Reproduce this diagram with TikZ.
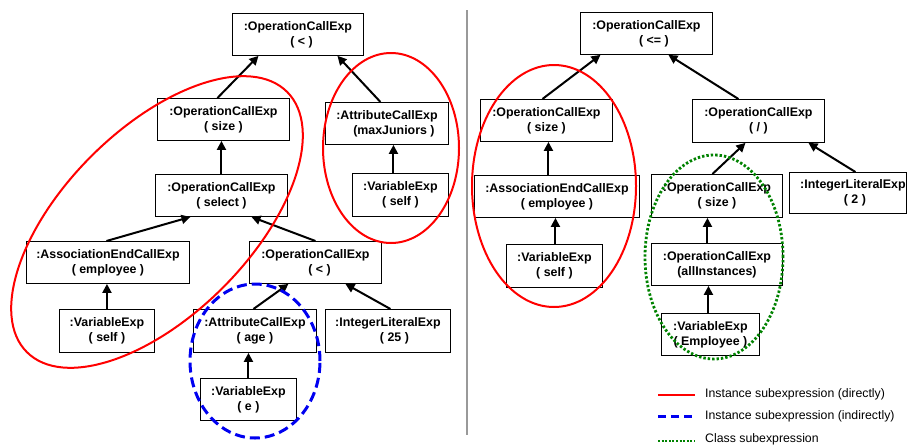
\documentclass[tikz,border=0pt]{standalone}
\usepackage{fontspec}
\setmainfont{Liberation Sans}
\usetikzlibrary{arrows.meta}
\definecolor{ellred}{RGB}{255,0,0}
\definecolor{ellblue}{RGB}{0,0,240}
\definecolor{ellgreen}{RGB}{0,130,0}
\tikzset{
  box/.style={draw=black, line width=0.9pt, anchor=north west, inner sep=0pt, align=center,
    font=\bfseries\fontsize{12.4}{15}\selectfont,
    execute at begin node={\rule{0pt}{11.6pt}}},
  arr/.style={line width=2pt, -{Triangle[length=9pt,width=9pt]}},
  redell/.style={draw=ellred, line width=2pt},
  blueell/.style={draw=ellblue, line width=3pt, dash pattern=on 10pt off 5pt},
  greenell/.style={draw=ellgreen, line width=2.8pt, dash pattern=on 2.4pt off 2pt},
  legtext/.style={anchor=base west, inner sep=0pt, font=\fontsize{12.3}{15}\selectfont}
}
\begin{document}
\begin{tikzpicture}[x=1pt, y=-1pt]
\useasboundingbox (0,0) rectangle (908,445);
% ---------- left tree ----------
\node[box, minimum width=131pt, minimum height=42pt] (top) at (232,13) {:OperationCallExp\\\hspace*{7pt}( < )};
\node[box, minimum width=132pt, minimum height=42pt] (size) at (157,98) {:OperationCallExp\\( size )};
\node[box, minimum width=123pt, minimum height=42pt] (maxj) at (325,102) {:AttributeCallExp\\\hspace*{14pt}(maxJuniors )};
\node[box, minimum width=132pt, minimum height=42pt] (select) at (155,174) {:OperationCallExp\\( select )};
\node[box, minimum width=96pt, minimum height=43pt] (selfr) at (352,173) {:VariableExp\\( self )};
\node[box, minimum width=163pt, minimum height=42pt] (assoc) at (26,241) {:AssociationEndCallExp\\( employee )};
\node[box, minimum width=132pt, minimum height=42pt] (lt) at (249,241) {:OperationCallExp\\\hspace*{8pt}( < )};
\node[box, minimum width=95pt, minimum height=43pt] (selfl) at (59,309) {:VariableExp\\( self )};
\node[box, minimum width=123pt, minimum height=43pt] (age) at (193,309) {:AttributeCallExp\\( age )};
\node[box, minimum width=125pt, minimum height=43pt] (i25) at (325,309) {:IntegerLiteralExp\\\hspace*{13pt}( 25 )};
\node[box, minimum width=96pt, minimum height=42pt] (evar) at (200,378) {:VariableExp\\( e )};

\draw[arr] ([xshift=-6pt]size.north) -- ([xshift=-39.5pt]top.south);
\draw[arr] ([xshift=-6.5pt]maxj.north) -- ([xshift=39.5pt]top.south);
\draw[arr] (select.north) -- (select.north |- size.south);
\draw[arr] ([xshift=-7pt]selfr.north) -- ([xshift=-7pt]selfr.north |- maxj.south);
\draw[arr] ([xshift=-1.5pt]assoc.north) -- ([xshift=-31pt]select.south);
\draw[arr] (lt.north) -- ([xshift=30pt]select.south);
\draw[arr] (selfl.north) -- (selfl.north |- assoc.south);
\draw[arr] ([xshift=-1.5pt]age.north) -- ([xshift=-27pt]lt.south);
\draw[arr] ([xshift=2.5pt]i25.north) -- ([xshift=30pt]lt.south);
\draw[arr] (evar.north) -- (evar.north |- age.south);

\draw[redell, rotate around={45:(157,222)}] (157,222) ellipse [x radius=184pt, y radius=93pt];
\draw[redell] (391,148) ellipse [x radius=68pt, y radius=95pt];
\draw[blueell] (255,361) ellipse [x radius=65pt, y radius=77pt];

% ---------- separator ----------
\draw[draw=gray!80, line width=1.4pt] (467,10) -- (467,435);

% ---------- right tree ----------
\node[box, minimum width=132pt, minimum height=42pt] (top2) at (580,12) {:OperationCallExp\\\hspace*{15pt}( <= )};
\node[box, minimum width=132pt, minimum height=42pt] (size2) at (480,99) {:OperationCallExp\\( size )};
\node[box, minimum width=132pt, minimum height=43pt] (div) at (692,99) {:OperationCallExp\\( / )};
\node[box, minimum width=165pt, minimum height=42pt] (assoc2) at (474,175) {:AssociationEndCallExp\\( employee )};
\node[box, minimum width=131pt, minimum height=43pt] (sizeg) at (651,174) {:OperationCallExp\\( size )};
\node[box, minimum width=117pt, minimum height=41pt] (i2) at (789,172) {\hspace*{10pt}:IntegerLiteralExp\\\hspace*{14pt}( 2 )};
\node[box, minimum width=96pt, minimum height=43pt] (self2) at (506,244) {:VariableExp\\( self )};
\node[box, minimum width=131pt, minimum height=42pt] (alli) at (651,243) {:OperationCallExp\\(allInstances)};
\node[box, minimum width=98pt, minimum height=42pt] (emp) at (661,313) {:VariableExp\\( Employee )};

\draw[arr] ([xshift=-4pt]size2.north) -- ([xshift=-46pt]top2.south);
\draw[arr] ([xshift=-20pt]div.north) -- ([xshift=22pt]top2.south);
\draw[arr] ([xshift=-8.5pt]assoc2.north) -- ([xshift=-8.5pt]assoc2.north |- size2.south);
\draw[arr] ([xshift=-4.5pt]sizeg.north) -- ([xshift=-13pt]div.south);
\draw[arr] ([xshift=7.5pt]i2.north) -- ([xshift=50pt]div.south);
\draw[arr] ([xshift=1pt]self2.north) -- ([xshift=1pt]self2.north |- assoc2.south);
\draw[arr] ([xshift=-9.5pt]alli.north) -- ([xshift=-9.5pt]alli.north |- sizeg.south);
\draw[arr] ([xshift=-2pt]emp.north) -- ([xshift=-2pt]emp.north |- alli.south);

\draw[redell] (554,186) ellipse [x radius=82pt, y radius=121pt];
\draw[greenell] (714,257) ellipse [x radius=69pt, y radius=102pt];

% ---------- legend ----------
\draw[draw=ellred, line width=2pt] (658,395) -- (695,395);
\node[legtext] (l1) at (705,397) {Instance subexpression (directly)};
\draw[draw=ellblue, line width=3pt, dash pattern=on 8pt off 5pt] (658,416) -- (696,416);
\node[legtext] (l2) at (705,419) {Instance subexpression (indirectly)};
\draw[draw=ellgreen, line width=2pt, dash pattern=on 2pt off 1.6pt] (658,441) -- (695,441);
\node[legtext] (l3) at (705,442) {Class subexpression};
\end{tikzpicture}
\end{document}
